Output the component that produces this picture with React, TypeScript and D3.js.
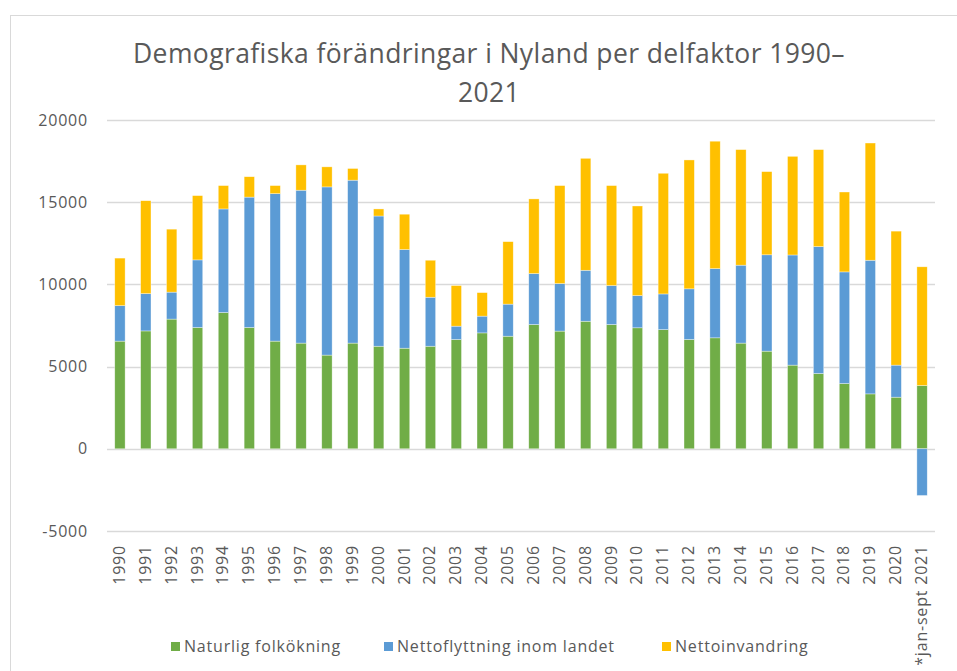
import React from 'react';
import * as d3 from 'd3';

const years = [
  '1990', '1991', '1992', '1993', '1994', '1995', '1996', '1997', '1998', '1999',
  '2000', '2001', '2002', '2003', '2004', '2005', '2006', '2007', '2008', '2009',
  '2010', '2011', '2012', '2013', '2014', '2015', '2016', '2017', '2018', '2019',
  '2020', '*jan-sept 2021',
];

const naturlig = [
  6550, 7170, 7890, 7380, 8290, 7380, 6550, 6430, 5700, 6430,
  6240, 6120, 6240, 6650, 7050, 6850, 7560, 7160, 7760, 7560,
  7360, 7250, 6650, 6750, 6430, 5940, 5090, 4580, 3970, 3340,
  3140, 3850,
];

const inrikes = [
  2160, 2270, 1640, 4110, 6300, 7930, 8970, 9300, 10230, 9910,
  7920, 6000, 2980, 810, 1020, 1950, 3100, 2890, 3100, 2370,
  1960, 2170, 3080, 4210, 4740, 5860, 6700, 7720, 6790, 8130,
  1950, -2840,
];

const invandring = [
  2890, 5650, 3830, 3910, 1420, 1240, 490, 1540, 1220, 710,
  430, 2150, 2250, 2470, 1430, 3800, 4540, 5960, 6810, 6080,
  5450, 7340, 7840, 7750, 7030, 5060, 6000, 5900, 4860, 7130,
  8150, 7220,
];

const seriesNames = ['Naturlig folkökning', 'Nettoflyttning inom landet', 'Nettoinvandring'];
const colors = ['#70AD47', '#5B9BD5', '#FFC000'];
const yTicks = [-5000, 0, 5000, 10000, 15000, 20000];

const W = 957;
const H = 671;
const textColor = '#595959';
const font = '"Open Sans", "Noto Sans", sans-serif';

export default function App() {
  const rows = years.map((y, i) => ({ year: y, a: naturlig[i], b: inrikes[i], c: invandring[i] }));
  const stack = d3.stack<any>().keys(['a', 'b', 'c']).offset(d3.stackOffsetDiverging);
  const layers = stack(rows);

  const x = d3.scaleBand().domain(years).range([107, 935]).paddingInner(0.6).paddingOuter(0.3);
  const y = d3.scaleLinear().domain([-5000, 20000]).range([531, 120]);

  const legendX = [171, 384, 662];

  return (
    <>
      <style>{'body{margin:0}'}</style>
      <svg width={W} height={H} style={{ display: 'block', background: '#fff' }}>
        <rect x={10.5} y={15.5} width={W + 10} height={H + 10} fill="#fff" stroke="#D9D9D9" />
        <text x={489} y={63} textAnchor="middle" fontFamily={font} fontSize={26.5} letterSpacing={0.4} fill={textColor}>
          Demografiska förändringar i Nyland per delfaktor 1990–
        </text>
        <text x={489} y={102} textAnchor="middle" fontFamily={font} fontSize={26.5} letterSpacing={0.4} fill={textColor}>
          2021
        </text>

        {yTicks.map(t => (
          <g key={t}>
            <line x1={107} x2={935} y1={Math.round(y(t)) + 0.5} y2={Math.round(y(t)) + 0.5} stroke="#D9D9D9" strokeWidth={1.5} />
            <text x={88} y={y(t)} dy="0.35em" textAnchor="end" fontFamily={font} fontSize={16} letterSpacing={0.8} fill={textColor}>
              {t}
            </text>
          </g>
        ))}

        {layers.map((layer, li) => (
          <g key={li} fill={colors[li]}>
            {layer.map((d, i) => (
              <rect
                key={i}
                x={x(years[i])}
                width={x.bandwidth()}
                y={y(Math.max(d[0], d[1]))}
                height={Math.abs(y(d[0]) - y(d[1]))}
                stroke="#fff"
                strokeOpacity={0.6}
                strokeWidth={0.6}
              />
            ))}
          </g>
        ))}

        {years.map(yr => (
          <text
            key={yr}
            transform={`translate(${(x(yr) as number) + x.bandwidth() / 2 + 5},545) rotate(-90)`}
            textAnchor="end"
            fontFamily={font}
            fontSize={16}
            letterSpacing={0.8}
            fill={textColor}
          >
            {yr}
          </text>
        ))}

        {seriesNames.map((n, i) => (
          <g key={n}>
            <rect x={legendX[i]} y={642} width={9} height={9} fill={colors[i]} />
            <text x={legendX[i] + 13} y={652} fontFamily={font} fontSize={16} letterSpacing={0.8} fill={textColor}>
              {n}
            </text>
          </g>
        ))}
      </svg>
    </>
  );
}
